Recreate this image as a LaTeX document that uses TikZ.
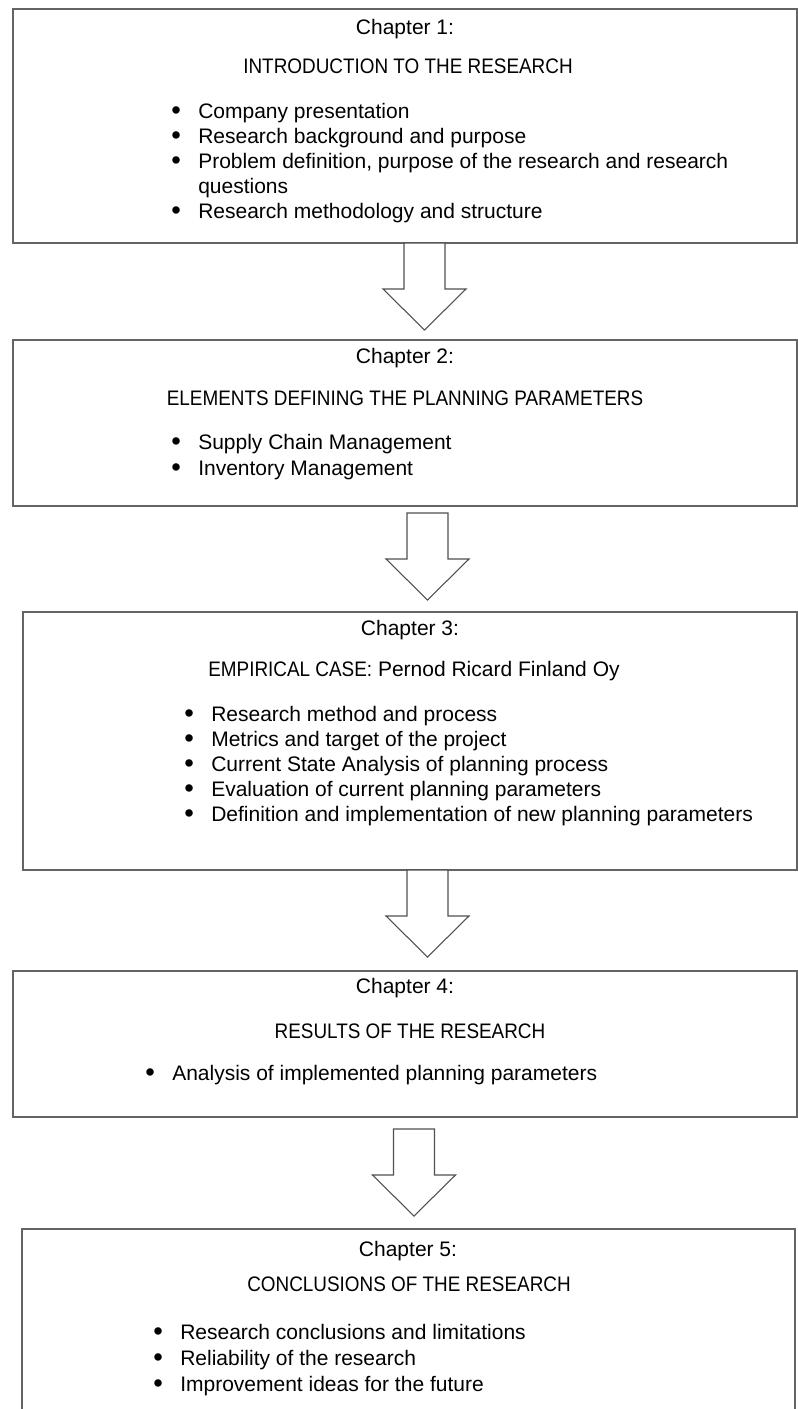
\documentclass[tikz,border=0pt]{standalone}
\usepackage{fontspec}
\setmainfont{Liberation Sans}
\usetikzlibrary{calc}
\definecolor{boxgray}{RGB}{100,100,100}
\definecolor{arrgray}{RGB}{80,80,80}
\newcommand\capsline[1]{\scalebox{0.9}[1]{#1}}
\newcommand\bl[1]{\makebox[20.25pt][l]{\raisebox{-0.4pt}{\scalebox{1.3}{\textbullet}}}#1}
\begin{document}
\begin{tikzpicture}[x=0.75pt,y=-0.75pt,
  chapbox/.style={draw=boxgray, line width=1.1pt, fill=white, inner sep=0pt, outer sep=0pt, anchor=north west},
  chaptxt/.style={font=\fontsize{15.75}{19}\selectfont, inner sep=0pt, anchor=mid},
  itemtxt/.style={font=\fontsize{15.75}{19}\selectfont, inner sep=0pt, anchor=mid west},
  arrowline/.style={draw=arrgray, line width=0.8pt, fill=white, line join=miter}]
\useasboundingbox (0,0) rectangle (798,1409);
\fill[white] (0,0) rectangle (798,1409);

\newcommand\blockarrow[1]{\draw[arrowline] (#1) ++(-20.5,0) -- ++(0,46) -- ++(-21,0) -- ++(41.5,41) -- ++(41.5,-41) -- ++(-21,0) -- ++(0,-46) -- cycle;}

% Box 1
\node[chapbox, minimum width=588pt, minimum height=175.5pt] (b1) at (13,9) {};
\node[chaptxt] (c1) at (405,31) {Chapter 1:};
\node[chaptxt] (h1) at (408,70) {\capsline{INTRODUCTION TO THE RESEARCH}};
\node[itemtxt] (i11) at (171,115) {\bl{Company presentation}};
\node[itemtxt] (i12) at (171,140) {\bl{Research background and purpose}};
\node[itemtxt] (i13) at (171,165) {\bl{Problem definition, purpose of the research and research}};
\node[itemtxt] (i13b) at (198,190) {questions};
\node[itemtxt] (i14) at (171,215) {\bl{Research methodology and structure}};

% Box 2
\node[chapbox, minimum width=588pt, minimum height=124.5pt] (b2) at (13,340) {};
\node[chaptxt] (c2) at (405,360) {Chapter 2:};
\node[chaptxt] (h2) at (405,402) {\capsline{ELEMENTS DEFINING THE PLANNING PARAMETERS}};
\node[itemtxt] (i21) at (171,446) {\bl{Supply Chain Management}};
\node[itemtxt] (i22) at (171,472) {\bl{Inventory Management}};

% Box 3
\node[chapbox, minimum width=580.5pt, minimum height=193.5pt] (b3) at (23,612) {};
\node[chaptxt] (c3) at (410,632) {Chapter 3:};
\node[chaptxt] (h3) at (414,673) {\capsline{EMPIRICAL CASE:} Pernod Ricard Finland Oy};
\node[itemtxt] (i31) at (184,718) {\bl{Research method and process}};
\node[itemtxt] (i32) at (184,743) {\bl{Metrics and target of the project}};
\node[itemtxt] (i33) at (184,768) {\bl{Current State Analysis of planning process}};
\node[itemtxt] (i34) at (184,793) {\bl{Evaluation of current planning parameters}};
\node[itemtxt] (i35) at (184,818) {\bl{Definition and implementation of new planning parameters}};

% Box 4
\node[chapbox, minimum width=588pt, minimum height=109.5pt] (b4) at (13,971) {};
\node[chaptxt] (c4) at (405,990) {Chapter 4:};
\node[chaptxt] (h4) at (410,1035) {\capsline{RESULTS OF THE RESEARCH}};
\node[itemtxt] (i41) at (145,1077) {\bl{Analysis of implemented planning parameters}};

% Box 5
\node[chapbox, minimum width=579.75pt, minimum height=147pt] (b5) at (22,1229) {};
\node[chaptxt] (c5) at (408,1253) {Chapter 5:};
\node[chaptxt] (h5) at (409,1288) {\capsline{CONCLUSIONS OF THE RESEARCH}};
\node[itemtxt] (i51) at (153,1336) {\bl{Research conclusions and limitations}};
\node[itemtxt] (i52) at (153,1362) {\bl{Reliability of the research}};
\node[itemtxt] (i53) at (153,1388) {\bl{Improvement ideas for the future}};

% Block arrows
\coordinate (a1) at ($(b1.south)+(19.5,0)$);
\coordinate (a2) at ($(b2.south)+(22.5,7)$);
\coordinate (a3) at ($(b3.south)+(17.5,0)$);
\coordinate (a4) at ($(b4.south)+(9,12)$);
\blockarrow{a1}
\blockarrow{a2}
\blockarrow{a3}
\blockarrow{a4}
\end{tikzpicture}
\end{document}
